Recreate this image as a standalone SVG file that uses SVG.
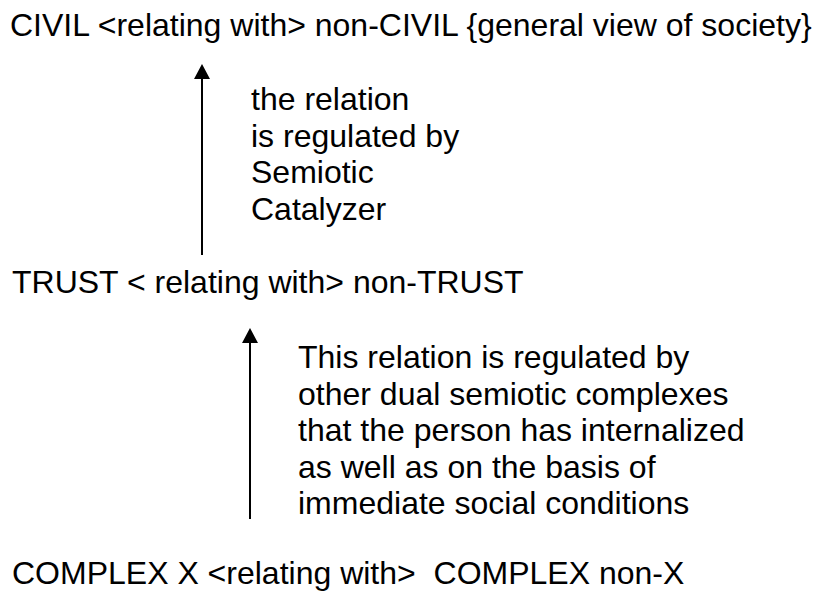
<svg xmlns="http://www.w3.org/2000/svg" width="818" height="593" viewBox="0 0 818 593">
<style>
.t{font-family:"Liberation Sans",Arial,sans-serif;font-size:32px;fill:#000}
.c{stroke:#000;stroke-width:2;fill:none}
</style>
<defs>
<marker id="ah" viewBox="0 0 15 16" markerWidth="15" markerHeight="16" refX="0" refY="8" orient="auto" markerUnits="userSpaceOnUse">
<path d="M0,0 L15,8 L0,16 z" fill="#000"/>
</marker>
</defs>
<rect width="818" height="593" fill="#fff"/>
<g id="civil"><text class="t" x="10" y="36">CIVIL &lt;relating with&gt; non-CIVIL {general view of society}</text></g>
<g id="trust"><text class="t" x="12" y="293">TRUST &lt; relating with&gt; non-TRUST</text></g>
<g id="complex"><text class="t" x="12" y="584" xml:space="preserve">COMPLEX X &lt;relating with&gt;  COMPLEX non-X</text></g>
<g id="label1">
<text class="t" x="251" y="110">the relation</text>
<text class="t" x="251" y="146.5">is regulated by</text>
<text class="t" x="251" y="183">Semiotic</text>
<text class="t" x="251" y="219.5">Catalyzer</text>
</g>
<g id="label2">
<text class="t" x="298" y="368">This relation is regulated by</text>
<text class="t" x="298" y="404.5">other dual semiotic complexes</text>
<text class="t" x="298" y="441">that the person has internalized</text>
<text class="t" x="298" y="477.5">as well as on the basis of</text>
<text class="t" x="298" y="514">immediate social conditions</text>
</g>
<g id="connectors">
<line class="c" x1="202" y1="255" x2="202" y2="79" marker-end="url(#ah)"/>
<line class="c" x1="250" y1="519" x2="250" y2="343" marker-end="url(#ah)"/>
</g>
</svg>
